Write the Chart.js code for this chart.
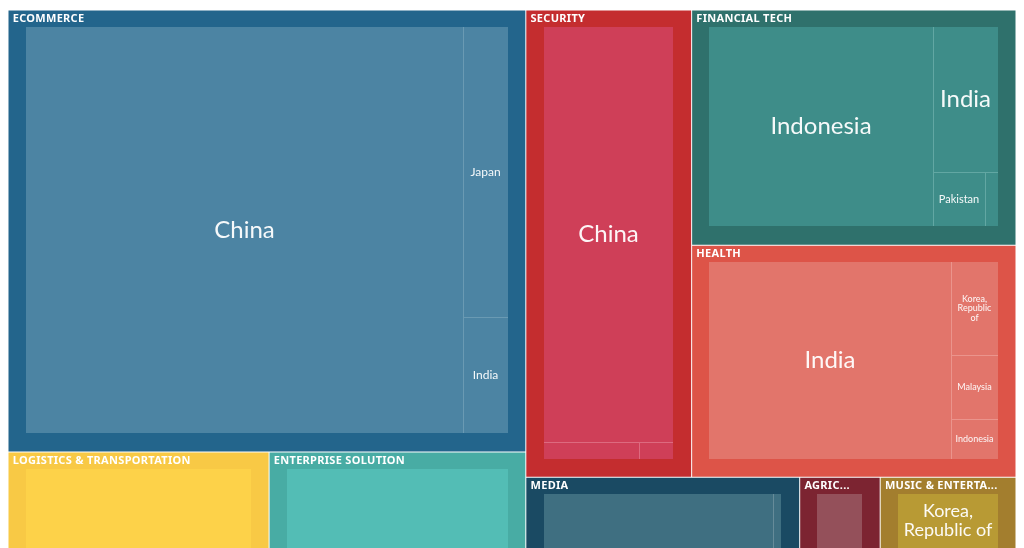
<!DOCTYPE html>
<html>
<head>
<meta charset="utf-8">
<title>Treemap</title>
<script src="https://cdn.jsdelivr.net/npm/chart.js@4"></script>
<style>
    html, body { margin: 0; padding: 0; background: #fff; overflow: hidden; }
    #wrap { width: 1024px; height: 548px; overflow: hidden; }
    canvas { display: block; }
</style>
</head>
<body>
<div id="wrap"><canvas id="chart" width="1024" height="575"></canvas></div>
<script>
// Sectors and their totals
const categories = ['ECOMMERCE', 'SECURITY', 'FINANCIAL TECH', 'HEALTH', 'LOGISTICS & TRANSPORTATION',
    'ENTERPRISE SOLUTION', 'MEDIA', 'AGRIC...', 'MUSIC & ENTERTA...'];
const categoryValues = [228.3, 77.3, 76.1, 75.1, 29.95, 29.45, 24.5, 7.2, 12.15];

// Countries in each sector (empty label = cell too small to be named in the picture)
const countries = [
    ['China', 'Japan', 'India'],
    ['China', '', ''],
    ['Indonesia', 'India', 'Pakistan', ''],
    ['India', 'Korea,\nRepublic\nof', 'Malaysia', 'Indonesia'],
    [''],
    [''],
    ['', ''],
    [''],
    ['Korea,\nRepublic of']
];
const countryValues = [
    [207.3, 14.9, 6.0],
    [74.2, 2.2, 0.8],
    [58.7, 12.4, 3.8, 0.9],
    [63.1, 5.8, 4.0, 2.5],
    [29.95],
    [29.45],
    [23.66, 0.84],
    [7.2],
    [12.15]
];

// How sectors are grouped in the tiling (indexes into categories)
const sectorGroups = [[0, [4, 5]], [[1, [2, 3]], [6, [7, 8]]]];

// Styles
const sectorColors = ['#23658c', '#c42d2f', '#2f716c', '#dd5448', '#f8c945', '#48aca4', '#1a4a63', '#7c2431', '#a37e2e'];
const countryColors = ['#4c84a3', '#cf3f58', '#3e8d89', '#e2756b', '#fdd249', '#53bdb5', '#3f6f81', '#94505a', '#b89a34'];
const dividerColors = ['#6a9ab3', '#dd6a7f', '#62a7a3', '#eb948c', '#fedd7a', '#7fcfc9', '#668b99', '#a97680', '#c9b060'];
const labelSizes = [
    [24, 12, 12],
    [24, 9, 9],
    [24, 24, 11, 9],
    [24, 9, 9, 9],
    [12], [12], [12, 9], [12],
    [18]
];
const HEADER_FONT = '"Noto Sans", sans-serif';
const LABEL_FONT = 'Lato, sans-serif';
const AXIS_W = 1008, AXIS_H = 557;
const PAD_SIDE = 18, PAD_TOP = 17, PAD_BOTTOM = 18.5, GAP = 0.5;

function sumGroup(group, valueOf) {
    return Array.isArray(group) ? group.reduce((s, g) => s + sumGroup(g, valueOf), 0) : valueOf(group);
}

// Split a rectangle along its longer side, in proportion to the values
function tile(group, rect, valueOf, out) {
    if (!Array.isArray(group)) {
        out[group] = rect;
        return;
    }
    const a = sumGroup(group[0], valueOf);
    const b = sumGroup(group[1], valueOf);
    const share = a / (a + b);
    if (rect.x1 - rect.x0 > rect.y1 - rect.y0) {
        const xk = rect.x0 + (rect.x1 - rect.x0) * share;
        tile(group[0], { x0: rect.x0, y0: rect.y0, x1: xk, y1: rect.y1 }, valueOf, out);
        tile(group[1], { x0: xk, y0: rect.y0, x1: rect.x1, y1: rect.y1 }, valueOf, out);
    } else {
        const yk = rect.y0 + (rect.y1 - rect.y0) * share;
        tile(group[0], { x0: rect.x0, y0: rect.y0, x1: rect.x1, y1: yk }, valueOf, out);
        tile(group[1], { x0: rect.x0, y0: yk, x1: rect.x1, y1: rect.y1 }, valueOf, out);
    }
}

// Country cells peel off one at a time: first one against the rest
function peel(indexes) {
    return indexes.length === 1 ? indexes[0] : [indexes[0], peel(indexes.slice(1))];
}

const sectorCells = [];
tile(sectorGroups, { x0: 0, y0: 0, x1: AXIS_W, y1: AXIS_H }, i => categoryValues[i], sectorCells);

const countryCells = [], countryFill = [], countryLine = [], countryBorder = [], countryText = [];
sectorCells.forEach(function(cell, s) {
    const inner = { x0: cell.x0 + PAD_SIDE, y0: cell.y0 + PAD_TOP, x1: cell.x1 - PAD_SIDE, y1: cell.y1 - PAD_BOTTOM };
    const out = [];
    tile(peel(countryValues[s].map((v, i) => i)), inner, i => countryValues[s][i], out);
    out.forEach(function(c, i) {
        countryCells.push(c);
        countryFill.push(countryColors[s]);
        countryLine.push(dividerColors[s]);
        countryBorder.push({
            left: c.x0 > inner.x0 + 0.01 ? 1 : 0,
            top: c.y0 > inner.y0 + 0.01 ? 1 : 0,
            right: 0,
            bottom: 0
        });
        countryText.push({ text: countries[s][i], size: labelSizes[s][i] });
    });
});

// Draws each rectangle as a bar element placed through the x and y scales
class TreemapController extends Chart.DatasetController {
    update(mode) {
        const meta = this._cachedMeta;
        this.updateElements(meta.data, 0, meta.data.length, mode);
    }
    updateElements(elements, start, count, mode) {
        const { xScale, yScale } = this._cachedMeta;
        const dataset = this.getDataset();
        const gap = dataset.gap || 0;
        const snap = dataset.snap ? (v => Math.round(v - 0.3)) : (v => v);
        for (let i = start; i < start + count; i++) {
            const c = dataset.data[i];
            const left = snap(xScale.getPixelForValue(c.x0)) + gap;
            const right = snap(xScale.getPixelForValue(c.x1)) - gap;
            const top = snap(yScale.getPixelForValue(c.y0)) + gap;
            const bottom = snap(yScale.getPixelForValue(c.y1)) - gap;
            this.updateElement(elements[i], i, {
                x: (left + right) / 2,
                y: top,
                base: bottom,
                width: right - left,
                height: bottom - top,
                horizontal: false,
                inflateAmount: 0,
                borderSkipped: {},
                enableBorderRadius: false,
                options: this.resolveDataElementOptions(i, mode)
            }, mode);
        }
    }
}
TreemapController.id = 'treemap';
TreemapController.defaults = { dataElementType: 'bar' };
Chart.register(TreemapController);

// Text on top of the cells
const cellLabels = {
    id: 'cellLabels',
    afterDatasetsDraw(chart) {
        const ctx = chart.ctx;
        ctx.save();
        ctx.fillStyle = '#fff';
        ctx.textBaseline = 'middle';

        // country names, centred
        ctx.textAlign = 'center';
        chart.getDatasetMeta(1).data.forEach(function(el, i) {
            const label = countryText[i];
            if (!label.text) return;
            const lines = label.text.split('\n');
            const lineH = label.size * 1.05;
            const mid = (el.y + el.base) / 2;
            ctx.font = label.size + 'px ' + LABEL_FONT;
            ctx.globalAlpha = 0.95;
            lines.forEach(function(line, n) {
                ctx.fillText(line, el.x, mid + (n - (lines.length - 1) / 2) * lineH);
            });
        });

        // sector headers, top left
        ctx.globalAlpha = 1;
        ctx.textAlign = 'left';
        ctx.font = 'bold 11px ' + HEADER_FONT;
        ctx.letterSpacing = '0.3px';
        chart.getDatasetMeta(0).data.forEach(function(el, i) {
            ctx.fillText(categories[i], el.x - el.width / 2 + 4.2, el.y + 8.5);
        });
        ctx.restore();
    }
};

new Chart(document.getElementById('chart'), {
    type: 'treemap',
    data: {
        datasets: [
            { label: 'Sector', data: sectorCells, gap: GAP, backgroundColor: sectorColors, borderWidth: 0, order: 2 },
            {
                label: 'Country',
                data: countryCells,
                snap: true,
                backgroundColor: countryFill,
                borderColor: countryLine,
                borderWidth: countryBorder,
                order: 1
            }
        ]
    },
    options: {
        responsive: false,
        animation: false,
        events: [],
        parsing: false,
        layout: { padding: { left: 8, right: 8, top: 10, bottom: 8 } },
        plugins: { legend: { display: false }, tooltip: { enabled: false } },
        scales: {
            x: { type: 'linear', min: 0, max: AXIS_W, display: false },
            y: { type: 'linear', min: 0, max: AXIS_H, reverse: true, display: false }
        }
    },
    plugins: [cellLabels]
});
</script>
</body>
</html>
